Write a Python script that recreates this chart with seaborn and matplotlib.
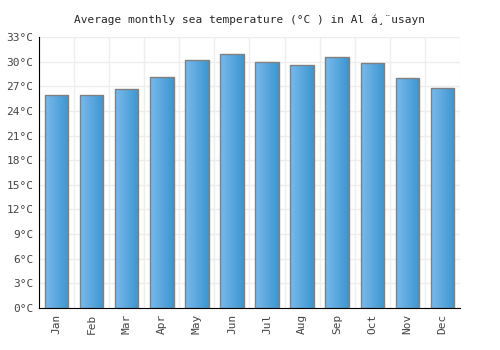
import seaborn as sns
import matplotlib.pyplot as plt
import numpy as np
import pandas as pd
from matplotlib.colors import LinearSegmentedColormap

# Monthly values
months = ['Jan', 'Feb', 'Mar', 'Apr', 'May', 'Jun', 'Jul', 'Aug', 'Sep', 'Oct', 'Nov', 'Dec']
sea_temp = [26.0, 25.9, 26.7, 28.2, 30.2, 30.9, 30.0, 29.6, 30.6, 29.9, 28.0, 26.8]
y_ticks = list(range(0, 34, 3))
y_labels = [f'{t}°C' for t in y_ticks]

df = pd.DataFrame({'month': months, 'temp': sea_temp})

sns.set_style('white')
plt.rcParams['font.family'] = ['DejaVu Sans Mono', 'DejaVu Sans']

fig = plt.figure(figsize=(5, 3.5), dpi=100)
ax = fig.add_axes([0.078, 0.12, 0.842, 0.774])

sns.barplot(x='month', y='temp', data=df, ax=ax, width=0.67,
            color='#5aa8e0', edgecolor='#808080', linewidth=1, zorder=2)

# Horizontal gradient fill clipped to each bar
cmap = LinearSegmentedColormap.from_list('bar', ['#7ab9ec', '#3c96d0'])
grad = np.linspace(0, 1, 64).reshape(1, -1)
for patch in ax.patches:
    x0, y0 = patch.get_x(), patch.get_y()
    w, h = patch.get_width(), patch.get_height()
    im = ax.imshow(grad, cmap=cmap, extent=[x0, x0 + w, y0, y0 + h],
                   aspect='auto', zorder=2.5)
    im.set_clip_path(patch)
    patch.set_facecolor('none')
    patch.set_zorder(3)

ax.set_xlim(-0.5, len(months) - 0.5)
ax.set_ylim(0, 33)
ax.set_yticks(y_ticks)
ax.set_yticklabels(y_labels, fontsize=8, color='#444444')
ax.set_xticks(range(len(months)))
ax.set_xticklabels(months, rotation=90, fontsize=8, color='#444444')

# Grid between categories and at temperature ticks
for xv in np.arange(-0.5, len(months), 1):
    ax.axvline(xv, color='#eeeeee', linewidth=1, zorder=0)
for yv in y_ticks:
    ax.axhline(yv, color='#eeeeee', linewidth=1, zorder=0)

ax.set_xlabel('')
ax.set_ylabel('')
ax.tick_params(length=0, pad=4)
for side in ['top', 'right']:
    ax.spines[side].set_visible(False)
ax.spines['left'].set_color('black')
ax.spines['bottom'].set_color('black')

ax.set_title('Average monthly sea temperature (°C ) in Al á¸¨usayn',
             fontsize=8, pad=10)

fig.savefig('out.png', dpi=100)
